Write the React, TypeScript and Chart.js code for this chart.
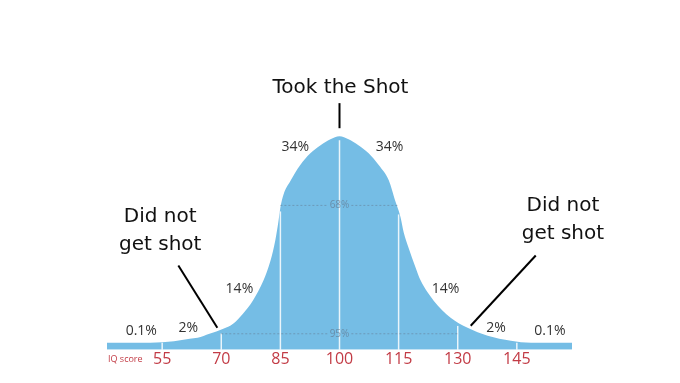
import React, { useEffect, useRef } from "react";
import { Chart, registerables } from "chart.js";

Chart.register(...registerables);

// IQ score positions sampled along the curve outline
const iqPoints = [
  41, 52, 55, 58, 62, 64, 67, 70.5, 73, 75.5, 78, 80.7, 82.5, 83.7, 84.5, 85, 85.8, 87.5, 90, 92.6, 95.2, 97.7,
  100, 102.3, 104.8, 107.4, 110, 112.5, 114.2, 115, 115.5, 116.3, 117.5, 119.3, 120.6, 123.9, 128.2, 132.5,
  137.6, 143.5, 148.6, 159,
];
// curve height (same units as y scale) at each IQ position, base band included
const curveHeights = [
  7, 7, 7.5, 8.5, 11, 12, 16, 21, 26, 36, 49, 69, 89, 109, 128, 142, 155, 168, 184, 196, 204, 210,
  213, 210, 204, 196, 184, 169, 148, 139, 132, 117, 102, 82, 69, 49, 32, 22,
  14, 9, 7, 7,
];
const tickValues = [55, 70, 85, 100, 115, 130, 145];
const dividerValues = [55, 70, 85, 100, 115, 130, 145];

const bandLabels = [
  { text: "34%", x: 88.8, y: 202 },
  { text: "34%", x: 112.7, y: 202 },
  { text: "14%", x: 74.6, y: 61 },
  { text: "14%", x: 126.9, y: 61 },
  { text: "2%", x: 61.6, y: 22 },
  { text: "2%", x: 139.7, y: 22 },
  { text: "0.1%", x: 49.7, y: 19 },
  { text: "0.1%", x: 153.4, y: 19 },
];

const rangeMarks = [
  { text: "68%", from: 85, to: 115, y: 144 },
  { text: "95%", from: 70, to: 130, y: 16 },
];

const calloutTexts = [
  { lines: ["Took the Shot"], x: 100.25, y: 261 },
  { lines: ["Did not", "get shot"], x: 54.5, y: 133 },
  { lines: ["Did not", "get shot"], x: 156.7, y: 144 },
];
const calloutLines = [
  { x1: 100, y1: 246, x2: 100, y2: 221 },
  { x1: 59.1, y1: 84, x2: 69.0, y2: 22 },
  { x1: 149.8, y1: 94, x2: 133.3, y2: 24 },
];

function curveAt(v: number): number {
  for (let i = 0; i < iqPoints.length - 1; i++) {
    const a = iqPoints[i], b = iqPoints[i + 1];
    if (v >= a && v <= b) {
      const t = (v - a) / (b - a);
      return curveHeights[i] + t * (curveHeights[i + 1] - curveHeights[i]);
    }
  }
  return curveHeights[curveHeights.length - 1];
}

const overlay = {
  id: "overlay",
  afterDatasetsDraw(chart: any) {
    const { ctx } = chart;
    const x = chart.scales.x;
    const y = chart.scales.y;
    ctx.save();

    // white dividers
    ctx.strokeStyle = "rgba(255,255,255,0.85)";
    ctx.lineWidth = 1.5;
    dividerValues.forEach((v) => {
      const px = x.getPixelForValue(v);
      ctx.beginPath();
      ctx.moveTo(px, y.getPixelForValue(0));
      ctx.lineTo(px, y.getPixelForValue(Math.max(curveAt(v) - 4, 7)));
      ctx.stroke();
    });

    // dotted range marks
    ctx.font = "10px 'Open Sans'";
    ctx.textAlign = "center";
    ctx.textBaseline = "middle";
    rangeMarks.forEach((m) => {
      const x1 = x.getPixelForValue(m.from);
      const x2 = x.getPixelForValue(m.to);
      const xc = (x1 + x2) / 2;
      const py = y.getPixelForValue(m.y);
      const tw = ctx.measureText(m.text).width / 2 + 2;
      ctx.strokeStyle = "rgba(100,125,150,0.55)";
      ctx.lineWidth = 1;
      ctx.setLineDash([2, 2]);
      ctx.beginPath();
      ctx.moveTo(x1, py);
      ctx.lineTo(xc - tw, py);
      ctx.moveTo(xc + tw, py);
      ctx.lineTo(x2, py);
      ctx.stroke();
      ctx.setLineDash([]);
      ctx.fillStyle = "rgba(100,125,150,0.75)";
      ctx.fillText(m.text, xc, py);
    });

    // percentage labels
    ctx.font = "14px 'Open Sans'";
    ctx.fillStyle = "#333333";
    bandLabels.forEach((l) => {
      ctx.fillText(l.text, x.getPixelForValue(l.x), y.getPixelForValue(l.y));
    });

    // callouts
    ctx.strokeStyle = "#000000";
    ctx.lineWidth = 2;
    calloutLines.forEach((l) => {
      ctx.beginPath();
      ctx.moveTo(x.getPixelForValue(l.x1), y.getPixelForValue(l.y1));
      ctx.lineTo(x.getPixelForValue(l.x2), y.getPixelForValue(l.y2));
      ctx.stroke();
    });
    ctx.font = "20px 'DejaVu Sans'";
    ctx.fillStyle = "#111111";
    calloutTexts.forEach((c) => {
      const px = x.getPixelForValue(c.x);
      const py = y.getPixelForValue(c.y);
      c.lines.forEach((t, i) => ctx.fillText(t, px, py + i * 28));
    });

    // axis caption
    ctx.font = "9px 'Open Sans'";
    ctx.fillStyle = "#c23b45";
    ctx.textAlign = "left";
    ctx.fillText("IQ score", x.left + 1, y.bottom + 10);

    ctx.restore();
  },
};

export default function App() {
  const ref = useRef<HTMLCanvasElement>(null);
  useEffect(() => {
    if (!ref.current) return;
    const chart = new Chart(ref.current, {
      type: "line",
      data: {
        datasets: [
          {
            data: iqPoints.map((v, i) => ({ x: v, y: curveHeights[i] })),
            fill: "origin",
            backgroundColor: "#75bde5",
            borderColor: "#75bde5",
            borderWidth: 0,
            pointRadius: 0,
            cubicInterpolationMode: "monotone",
          },
        ],
      },
      options: {
        animation: false,
        responsive: false,
        devicePixelRatio: 1,
        layout: { padding: { left: 107, right: 108, top: 49, bottom: 14 } },
        plugins: { legend: { display: false }, tooltip: { enabled: false } },
        scales: {
          x: {
            type: "linear",
            min: 41,
            max: 159,
            afterBuildTicks: (axis: any) => {
              axis.ticks = tickValues.map((v) => ({ value: v }));
            },
            grid: { display: false, drawTicks: false },
            border: { display: false },
            ticks: {
              autoSkip: false,
              maxRotation: 0,
              padding: 0,
              color: "#c23b45",
              font: { family: "'Open Sans'", size: 16 },
            },
          },
          y: { display: false, min: 0, max: 300 },
        },
      },
      plugins: [overlay],
    });
    return () => chart.destroy();
  }, []);
  return (
    <div style={{ position: "absolute", left: 0, top: 0, width: 680, height: 383, background: "#fff" }}>
      <canvas ref={ref} width={680} height={383} style={{ display: "block" }} />
    </div>
  );
}
